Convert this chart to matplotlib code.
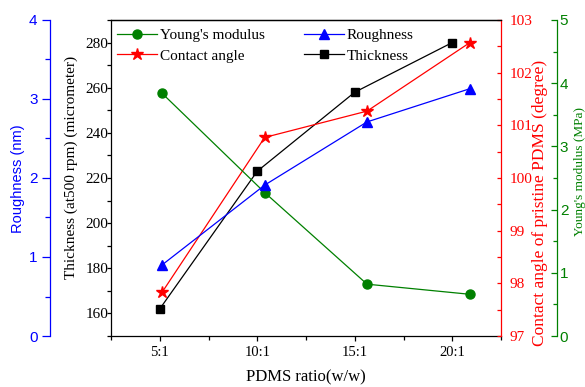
import matplotlib
matplotlib.use("Agg")
import matplotlib.pyplot as plt
from matplotlib.ticker import MultipleLocator, FixedLocator

# ---- data ----
ratio_labels = ["5:1", "10:1", "15:1", "20:1"]
x_thickness = [5, 10, 15, 20]
x_layers = [5.12, 10.38, 15.63, 20.9]   # other layers are drawn slightly shifted
thickness = [162, 223, 258, 280]         # micrometer
contact_angle = [97.83, 100.77, 101.27, 102.57]  # degree
roughness = [0.90, 1.91, 2.71, 3.13]     # nm
youngs = [3.84, 2.27, 0.82, 0.66]        # MPa

SERIF = "Liberation Serif"
SANS = "Liberation Sans"
plt.rcParams["font.family"] = SERIF

W, H = 585, 387
fig = plt.figure(figsize=(W / 100, H / 100), dpi=100)
L, R, T, B = 111, 501, 20, 336
ax = fig.add_axes([L / W, (H - B) / H, (R - L) / W, (B - T) / H])
axw = R - L

lw = 0.9
# main axis: thickness
ax.set_xlim(2.5, 22.5)
ax.set_ylim(150, 290)
ax.xaxis.set_major_locator(FixedLocator(x_thickness))
ax.set_xticklabels(ratio_labels, fontsize=10.5)
ax.xaxis.set_minor_locator(FixedLocator([2.5, 7.5, 12.5, 17.5, 22.5]))
ax.yaxis.set_major_locator(MultipleLocator(20))
ax.yaxis.set_minor_locator(MultipleLocator(10))
ax.tick_params(axis="x", which="major", direction="out", length=3.5, width=lw, pad=4)
ax.tick_params(axis="x", which="minor", direction="out", length=3, width=lw)
ax.tick_params(axis="y", which="both", direction="out", length=3, width=lw, pad=-1, labelsize=11)
ax.spines["right"].set_visible(False)
for s in ["left", "bottom", "top"]:
    ax.spines[s].set_linewidth(lw)
ax.set_xlabel("PDMS ratio(w/w)", fontsize=12, labelpad=7)
ax.set_ylabel("Thickness (at500 rpm) (micrometer)", fontsize=11)
ax.yaxis.set_label_coords((78 - L) / axw, (B - 167) / (B - T))

# red: contact angle
axr = ax.twinx()
axr.set_ylim(97, 103)
axr.yaxis.set_major_locator(MultipleLocator(1))
axr.yaxis.set_minor_locator(MultipleLocator(0.5))
axr.tick_params(axis="y", which="both", direction="in", length=3, width=lw, colors="red",
                labelsize=11, pad=6)
for s in ["left", "bottom"]:
    axr.spines[s].set_visible(False)
axr.spines["top"].set_linewidth(lw)
axr.spines["right"].set_color("red")
axr.spines["right"].set_linewidth(lw)
axr.tick_params(axis="x", which="both", top=True, bottom=False, direction="in", length=3.5, width=lw,
                labeltop=False, labelbottom=False)
axr.set_ylabel("Contact angle of pristine PDMS (degree)", color="red", fontsize=12.5)
axr.yaxis.set_label_coords((532 - L) / axw, (B - 203) / (B - T))

# green: Young's modulus
axg = ax.twinx()
axg.set_ylim(0, 5)
axg.spines["right"].set_position(("axes", (557 - L) / axw))
for s in ["left", "bottom", "top"]:
    axg.spines[s].set_visible(False)
axg.spines["right"].set_color("green")
axg.spines["right"].set_linewidth(lw)
axg.yaxis.set_major_locator(MultipleLocator(1))
axg.yaxis.set_minor_locator(MultipleLocator(0.5))
axg.tick_params(axis="y", which="major", direction="in", length=4, width=lw, colors="green", pad=2)
axg.tick_params(axis="y", which="minor", direction="in", length=3, width=lw, colors="green")
for lab in axg.get_yticklabels():
    lab.set_fontfamily(SANS)
    lab.set_fontsize(11)
axg.set_ylabel("Young's modulus (MPa)", color="green", fontsize=9.5)
axg.yaxis.set_label_coords((574 - L) / axw, (B - 172) / (B - T))

# blue: roughness
axb = ax.twinx()
axb.set_ylim(0, 4)
axb.yaxis.set_label_position("left")
axb.yaxis.tick_left()
axb.spines["left"].set_position(("axes", (50 - L) / axw))
axb.spines["left"].set_visible(True)
for s in ["right", "bottom", "top"]:
    axb.spines[s].set_visible(False)
axb.spines["left"].set_color("blue")
axb.spines["left"].set_linewidth(lw)
axb.yaxis.set_major_locator(MultipleLocator(1))
axb.yaxis.set_minor_locator(MultipleLocator(0.5))
axb.tick_params(axis="y", which="major", direction="out", length=6, width=lw, colors="blue", pad=3)
axb.tick_params(axis="y", which="minor", direction="out", length=3.5, width=lw, colors="blue")
for lab in axb.get_yticklabels():
    lab.set_fontfamily(SANS)
    lab.set_fontsize(11)
axb.set_ylabel("Roughness (nm)", color="blue", fontsize=10.5, fontfamily=SANS)
axb.yaxis.set_label_coords((25 - L) / axw, (B - 179) / (B - T))

# plot series
hy, = axg.plot(x_layers, youngs, color="green", marker="o", ms=6.5, lw=lw, label="Young's modulus")
hr, = axb.plot(x_layers, roughness, color="blue", marker="^", ms=7, lw=lw, label="Roughness")
hc, = axr.plot(x_layers, contact_angle, color="red", marker="*", ms=9, lw=lw, label="Contact angle")
ht, = ax.plot(x_thickness, thickness, color="black", marker="s", ms=5.5, lw=lw, label="Thickness")

leg = axb.legend([hy, hc, hr, ht], ["Young's modulus", "Contact angle", "Roughness", "Thickness"],
                 ncol=2, loc="upper left", bbox_to_anchor=(0.015, 0.973), frameon=False,
                 fontsize=11, handlelength=2.6, columnspacing=2.6, labelspacing=0.45,
                 handletextpad=0.2, borderpad=0, borderaxespad=0)

fig.savefig("out.png", dpi=100)
